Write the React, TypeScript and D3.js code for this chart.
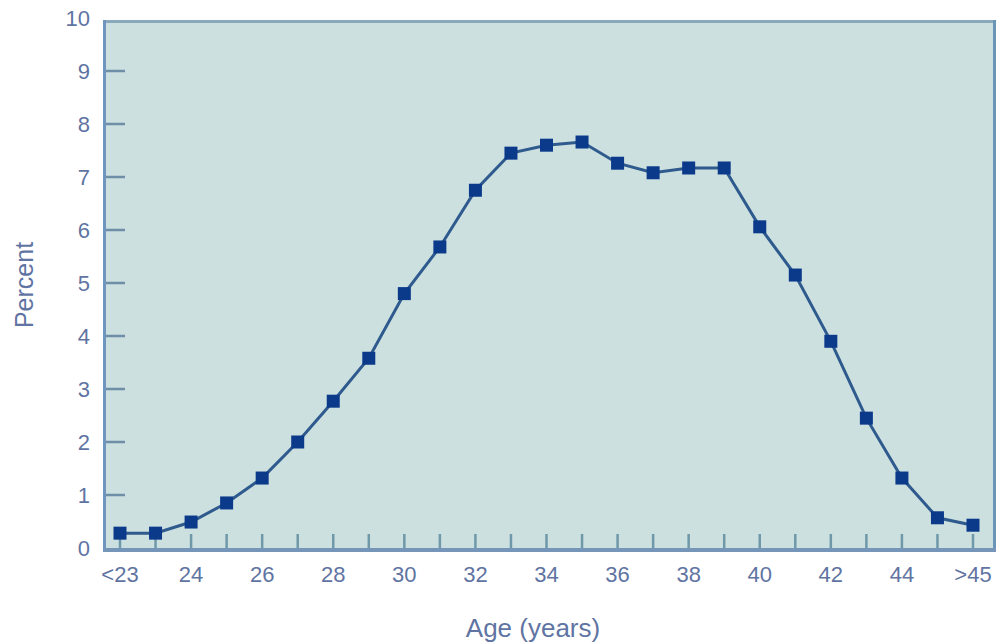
import React from "react";
import * as d3 from "d3";

const categories = ["<23","23","24","25","26","27","28","29","30","31","32","33","34","35","36","37","38","39","40","41","42","43","44","45",">45"];
const percent = [0.28,0.28,0.49,0.85,1.32,2.0,2.77,3.58,4.8,5.68,6.75,7.45,7.6,7.66,7.26,7.08,7.17,7.17,6.06,5.15,3.9,2.45,1.32,0.57,0.43];
const xTickLabels = ["<23","24","26","28","30","32","34","36","38","40","42","44",">45"];
const yTicks = [0,1,2,3,4,5,6,7,8,9,10];

const W = 1000, H = 644;
const left = 103, right = 996, top = 20, bottom = 549;

export default function App() {
  const x = d3.scalePoint<string>().domain(categories).range([120, 973]);
  const y = d3.scaleLinear().domain([0, 10]).range([548, 18]);
  const line = d3.line<number>().x((_, i) => x(categories[i])!).y(d => y(d));
  const txt = "#5f74a2";
  const font = "Liberation Sans, Arial, sans-serif";
  return (
    <svg width={W} height={H} style={{ position: "absolute", left: 0, top: 0 }}>
      <rect x={0} y={0} width={W} height={H} fill="#fff" />
      <rect x={left} y={top} width={right - left} height={bottom - top} fill="#cde0e0" />
      <line x1={left} x2={right} y1={top + 1.5} y2={top + 1.5} stroke="#8aa8bc" strokeWidth={3} />
      <line x1={right - 1.5} x2={right - 1.5} y1={top} y2={bottom} stroke="#6a96b8" strokeWidth={3} />
      {yTicks.map(t => (
        <g key={t}>
          {t > 0 && t < 10 && <line x1={left} x2={left + 22} y1={y(t)} y2={y(t)} stroke="#6f8fa8" strokeWidth={2.5} />}
          <text x={90} y={y(t)} dy="0.36em" textAnchor="end" fontFamily={font} fontSize={22} fill={txt}>{t}</text>
        </g>
      ))}
      {categories.map(c => (
        <line key={c} x1={x(c)} x2={x(c)} y1={bottom} y2={bottom - 15} stroke="#6f98a8" strokeWidth={2.5} />
      ))}
      <line x1={left + 1.5} x2={left + 1.5} y1={top} y2={bottom + 2} stroke="#6f94bd" strokeWidth={3} />
      <line x1={left} x2={right} y1={bottom + 1} y2={bottom + 1} stroke="#7596b8" strokeWidth={4} />
      {xTickLabels.map(c => (
        <text key={c} x={x(c)} y={582} textAnchor="middle" fontFamily={font} fontSize={22} fill={txt}>{c}</text>
      ))}
      <path d={line(percent) || ""} fill="none" stroke="#2e5a8e" strokeWidth={3} />
      {percent.map((v, i) => (
        <rect key={i} x={x(categories[i])! - 6.5} y={y(v) - 6.5} width={13} height={13} fill="#0b3a8a" />
      ))}
      <text transform={`translate(33,285) rotate(-90)`} textAnchor="middle" fontFamily={font} fontSize={25} fill={txt}>Percent</text>
      <text x={533} y={637} textAnchor="middle" fontFamily={font} fontSize={26} fill={txt}>Age (years)</text>
    </svg>
  );
}
